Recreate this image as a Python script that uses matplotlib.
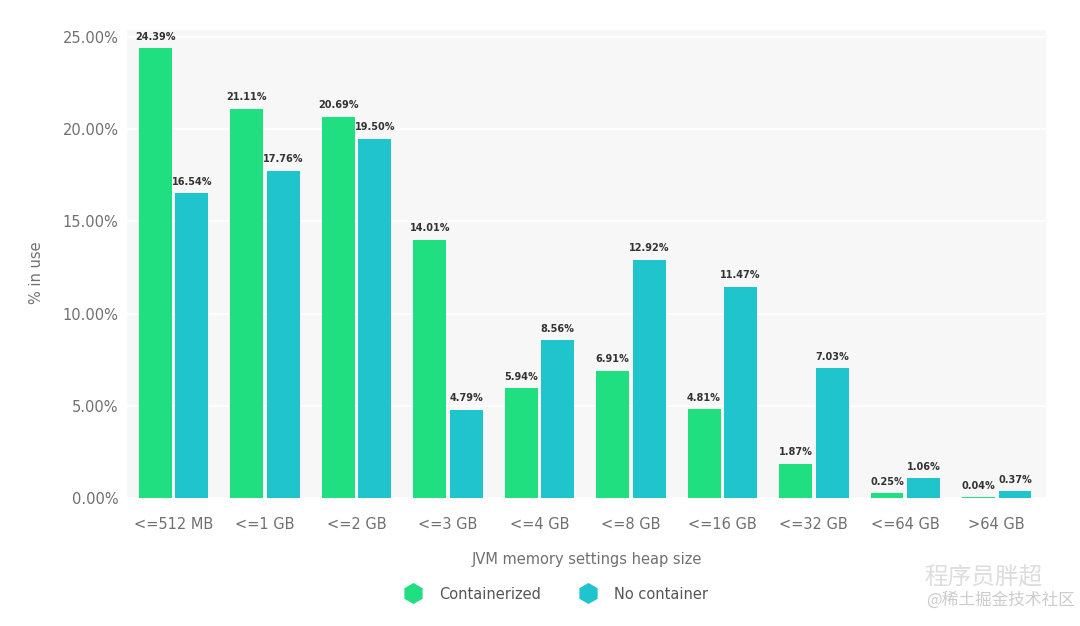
import matplotlib.pyplot as plt
from matplotlib.lines import Line2D
import numpy as np

plt.rcParams['font.family'] = ['DejaVu Sans', 'Noto Sans CJK SC']

categories = ["<=512 MB", "<=1 GB", "<=2 GB", "<=3 GB", "<=4 GB",
              "<=8 GB", "<=16 GB", "<=32 GB", "<=64 GB", ">64 GB"]
containerized = [24.39, 21.11, 20.69, 14.01, 5.94, 6.91, 4.81, 1.87, 0.25, 0.04]
no_container = [16.54, 17.76, 19.50, 4.79, 8.56, 12.92, 11.47, 7.03, 1.06, 0.37]
yticks = [0, 5, 10, 15, 20, 25]

GREEN = "#1fdf80"
CYAN = "#1fc4cd"

fig = plt.figure(figsize=(10.8, 6.26), dpi=100)
ax = fig.add_axes([0.1176, 0.2045, 0.851, 0.748])
ax.set_facecolor("#f7f7f8")

x = np.arange(len(categories))
w = 0.36
gap = 0.02
b1 = ax.bar(x - w / 2 - gap, containerized, w, color=GREEN, zorder=3)
b2 = ax.bar(x + w / 2 + gap, no_container, w, color=CYAN, zorder=3)

# value labels above each bar
for bars, vals in [(b1, containerized), (b2, no_container)]:
    for bar, v in zip(bars, vals):
        ax.text(bar.get_x() + bar.get_width() / 2, v + 0.35, f"{v:.2f}%",
                ha="center", va="bottom", fontsize=7, fontweight="bold",
                color="#333333", zorder=4)

ax.set_xlim(-0.51, 9.54)
ax.set_ylim(0, 25.4)
ax.set_yticks(yticks)
ax.set_yticklabels([f"{t:.2f}%" for t in yticks])
ax.set_xticks(x)
ax.set_xticklabels(categories)
ax.tick_params(axis="both", length=0, colors="#707070", labelsize=10.5)
ax.tick_params(axis="x", pad=14)
ax.tick_params(axis="y", pad=6)
ax.grid(axis="y", color="white", linewidth=1.2, zorder=1)
for s in ax.spines.values():
    s.set_visible(False)

ax.set_xlabel("JVM memory settings heap size", color="#707070", fontsize=10.5, labelpad=14)
fig.text(0.034, 0.565, "% in use", rotation=90, ha="center", va="center",
         color="#707070", fontsize=10.5)

handles = [Line2D([], [], marker="h", linestyle="", markersize=14, color=GREEN),
           Line2D([], [], marker="h", linestyle="", markersize=14, color=CYAN)]
fig.legend(handles, ["Containerized", "No container"], loc="center",
           bbox_to_anchor=(0.512, 0.051), ncol=2, frameon=False, fontsize=10.5,
           labelcolor="#555555", columnspacing=2.2, handletextpad=0.8)

fig.text(0.965, 0.077, "程序员胖超", ha="right", va="center", fontsize=17,
         color="#dddddd", family=["Noto Sans CJK SC", "DejaVu Sans"])
fig.text(0.995, 0.042, "@稀土掘金技术社区", ha="right", va="center", fontsize=12,
         color="#cccccc", family=["Noto Sans CJK SC", "DejaVu Sans"])

fig.savefig("out.png", dpi=100)
